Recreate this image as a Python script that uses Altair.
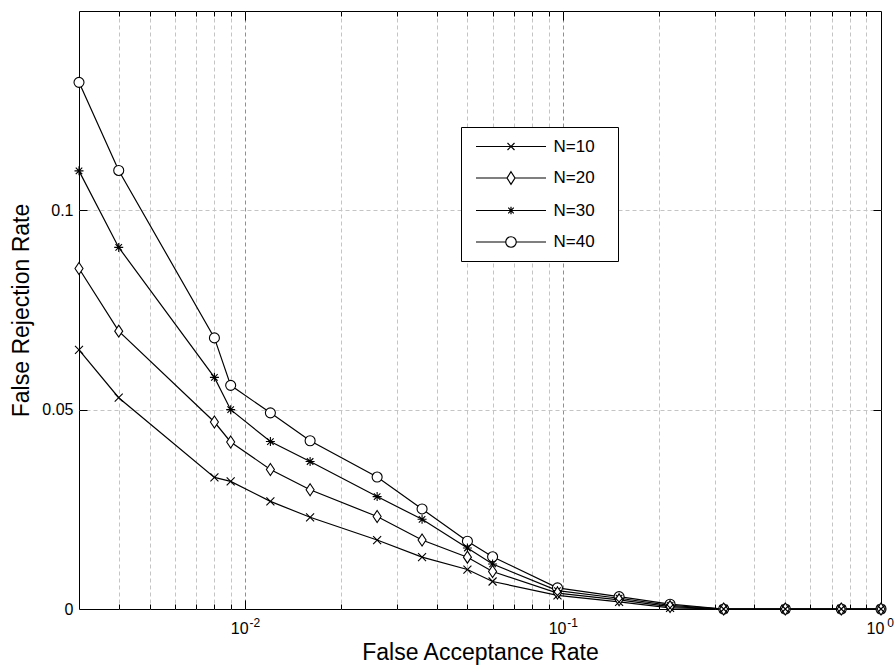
import altair as alt
import pandas as pd

# ---------------- data ----------------
far = [0.003, 0.004, 0.008, 0.009, 0.012, 0.016, 0.026, 0.036, 0.05, 0.06,
       0.096, 0.15, 0.217, 0.32, 0.5, 0.75, 1.0]
frr_n10 = [0.065, 0.053, 0.033, 0.032, 0.027, 0.023, 0.0173, 0.013, 0.0099, 0.0069,
           0.0034, 0.0018, 0.0003, 0, 0, 0, 0]
frr_n20 = [0.0854, 0.0697, 0.0469, 0.0419, 0.035, 0.0299, 0.0232, 0.0173, 0.013, 0.0094,
           0.0040, 0.0023, 0.0006, 0, 0, 0, 0]
frr_n30 = [0.1099, 0.0907, 0.0581, 0.050, 0.042, 0.037, 0.0282, 0.0225, 0.0153, 0.0113,
           0.0046, 0.0027, 0.0009, 0, 0, 0, 0]
frr_n40 = [0.1321, 0.110, 0.068, 0.0561, 0.0492, 0.0422, 0.0331, 0.0251, 0.017, 0.0131,
           0.0053, 0.0031, 0.0012, 0, 0, 0, 0]
series_names = ["N=10", "N=20", "N=30", "N=40"]
series_vals = [frr_n10, frr_n20, frr_n30, frr_n40]

decade_ticks = [0.01, 0.1, 1.0]
minor_ticks = [0.004, 0.005, 0.006, 0.007, 0.008, 0.009,
               0.02, 0.03, 0.04, 0.05, 0.06, 0.07, 0.08, 0.09,
               0.2, 0.3, 0.4, 0.5, 0.6, 0.7, 0.8, 0.9]
all_x_ticks = sorted(minor_ticks + decade_ticks)
y_ticks = [0, 0.05, 0.1]
y_inner_ticks = [0.05, 0.1]

rows = []
# draw order: N=40 first so that smaller markers end on top
for name, vals in reversed(list(zip(series_names, series_vals))):
    for xv, yv in zip(far, vals):
        rows.append({"far": xv, "frr": yv, "series": name})
df = pd.DataFrame(rows)

# ---------------- style ----------------
FONT = "Liberation Sans"
W, H = 802, 598
GRID = "#c4c4c4"
DEC = "abs(log(datum.value)/LN10 - round(log(datum.value)/LN10)) < 0.000001"

# plot markers (unit = 5 px at size 100)
marker_paths = [
    "M-0.8,-0.8L0.8,0.8M-0.8,0.8L0.8,-0.8",
    "M0,-1.2L0.8,0L0,1.2L-0.8,0Z",
    "M-0.9,0L0.9,0M0,-0.9L0,0.9M-0.65,-0.65L0.65,0.65M-0.65,0.65L0.65,-0.65",
    "circle",
]
# legend symbols: line + marker (unit = 7 px at size 196)
legend_paths = [
    "M-5,0H5M-0.5,-0.5L0.5,0.5M-0.5,0.5L0.5,-0.5",
    "M-5,0H-0.57M0.57,0H5M0,-0.9L0.57,0L0,0.9L-0.57,0Z",
    "M-5,0H5M0,-0.55V0.55M-0.4,-0.4L0.4,0.4M-0.4,0.4L0.4,-0.4",
    "M-5,0H-0.75M0.75,0H5M0.75,0A0.75,0.75,0,1,1,-0.75,0A0.75,0.75,0,1,1,0.75,0Z",
]

xscale = alt.Scale(type="log", domain=[0.003, 1.0], nice=False)
yscale = alt.Scale(domain=[0, 0.15], nice=False, zero=False)


def tick_axis(orient, values, size, offset):
    return alt.Axis(orient=orient, values=values, tickSize=size, offset=offset,
                    ticks=True, tickColor="black", tickWidth=1,
                    labels=False, domain=False, grid=False, title=None)


main_x = alt.Axis(
    orient="bottom", values=all_x_ticks,
    labelExpr=f"{DEC} ? '10' : ''",
    labelFontSize=16, labelPadding=11, labelOffset=-6,
    labelFlush=False, labelOverlap=False,
    ticks=False, tickSize=0, domain=False,
    grid=True, gridDash=[4, 3], gridWidth=1,
    gridColor={"condition": {"test": DEC, "value": "#8f8f8f"}, "value": GRID},
    gridOpacity={"condition": {"test": "datum.value > 0.99", "value": 0}, "value": 1},
    title="False Acceptance Rate", titleFontSize=23, titleX=401, titleY=50,
    titleBaseline="alphabetic", titleAlign="center",
)
sup_x = alt.Axis(
    orient="bottom", values=decade_ticks,
    labelExpr="'' + round(log(datum.value)/LN10)",
    labelFontSize=12, labelPadding=8, labelOffset=9,
    labelFlush=False, labelOverlap=False,
    ticks=False, tickSize=0, domain=False, grid=False, title=None,
)
main_y = alt.Axis(
    orient="left", values=y_ticks,
    labelExpr="format(datum.value, '~g')",
    labelFontSize=16, labelPadding=6, labelFlush=False,
    ticks=False, tickSize=0, domain=False,
    grid=True, gridDash=[4, 3], gridColor=GRID, gridWidth=1,
    gridOpacity={"condition": {"test": "datum.value == 0", "value": 0}, "value": 1},
    title="False Rejection Rate", titleFontSize=23, titleX=-51, titleY=299,
    titleAngle=270, titleBaseline="alphabetic", titleAlign="center",
)

base = alt.Chart(df)


def X(axis):
    return alt.X("far:Q", scale=xscale, axis=axis)


def Y(axis):
    return alt.Y("frr:Q", scale=yscale, axis=axis)


lines = base.mark_line(color="black", strokeWidth=1.2).encode(
    x=X(main_x), y=Y(main_y), detail="series:N"
)

points = base.mark_point(filled=True, fill="white", stroke="black",
                         strokeWidth=1.1, size=100, opacity=1).encode(
    x=X(sup_x),
    y=Y(tick_axis("right", y_inner_ticks, 8, -W)),
    shape=alt.Shape("series:N",
                    scale=alt.Scale(domain=series_names, range=marker_paths),
                    legend=None),
)

PAD = "\u2800"
legend_layer = base.transform_filter("false").mark_point(
    filled=False, color="black", strokeWidth=1.2, size=196, opacity=1
).encode(
    x=X(tick_axis("top", minor_ticks, 5, -H)),
    y=Y(tick_axis("left", y_inner_ticks, 8, -W)),
    shape=alt.Shape(
        "series:N",
        scale=alt.Scale(domain=series_names, range=legend_paths),
        legend=alt.Legend(
            title=None, orient="none", legendX=382, legendY=116,
            direction="vertical",
            padding=11, rowPadding=13.5, symbolOffset=30.5, labelOffset=34,
            strokeColor="black", fillColor="white", cornerRadius=0,
            symbolSize=196, symbolStrokeColor="black",
            symbolStrokeWidth=1.2, symbolOpacity=1,
            labelFont=FONT, labelFontSize=17, labelColor="black",
            labelExpr=f"datum.label + '{PAD}'",
        ),
    ),
)

empty = base.transform_filter("false").mark_point(opacity=0)
l3 = empty.encode(x=X(tick_axis("top", [0.01, 0.1], 9, -H)), y=Y(None))
l4 = empty.encode(x=X(tick_axis("bottom", minor_ticks, 5, -H)), y=Y(None))
l5 = empty.encode(x=X(tick_axis("bottom", [0.01, 0.1], 9, -H)), y=Y(None))

chart = (
    alt.layer(lines, points, legend_layer, l3, l4, l5)
    .resolve_scale(shape="independent")
    .resolve_axis(x="independent", y="independent")
    .properties(
        width=W, height=H,
        autosize=alt.AutoSizeParams(type="none"),
        padding={"left": 79, "top": 11, "right": 14, "bottom": 57},
        background="white",
    )
    .configure_view(stroke="black", strokeWidth=1)
    .configure_axis(labelFont=FONT, titleFont=FONT, labelColor="black",
                    titleColor="black", titleFontWeight="normal")
    .configure_legend(labelFont=FONT)
)

chart.save("out.html", embed_options={"renderer": "svg", "actions": False})
